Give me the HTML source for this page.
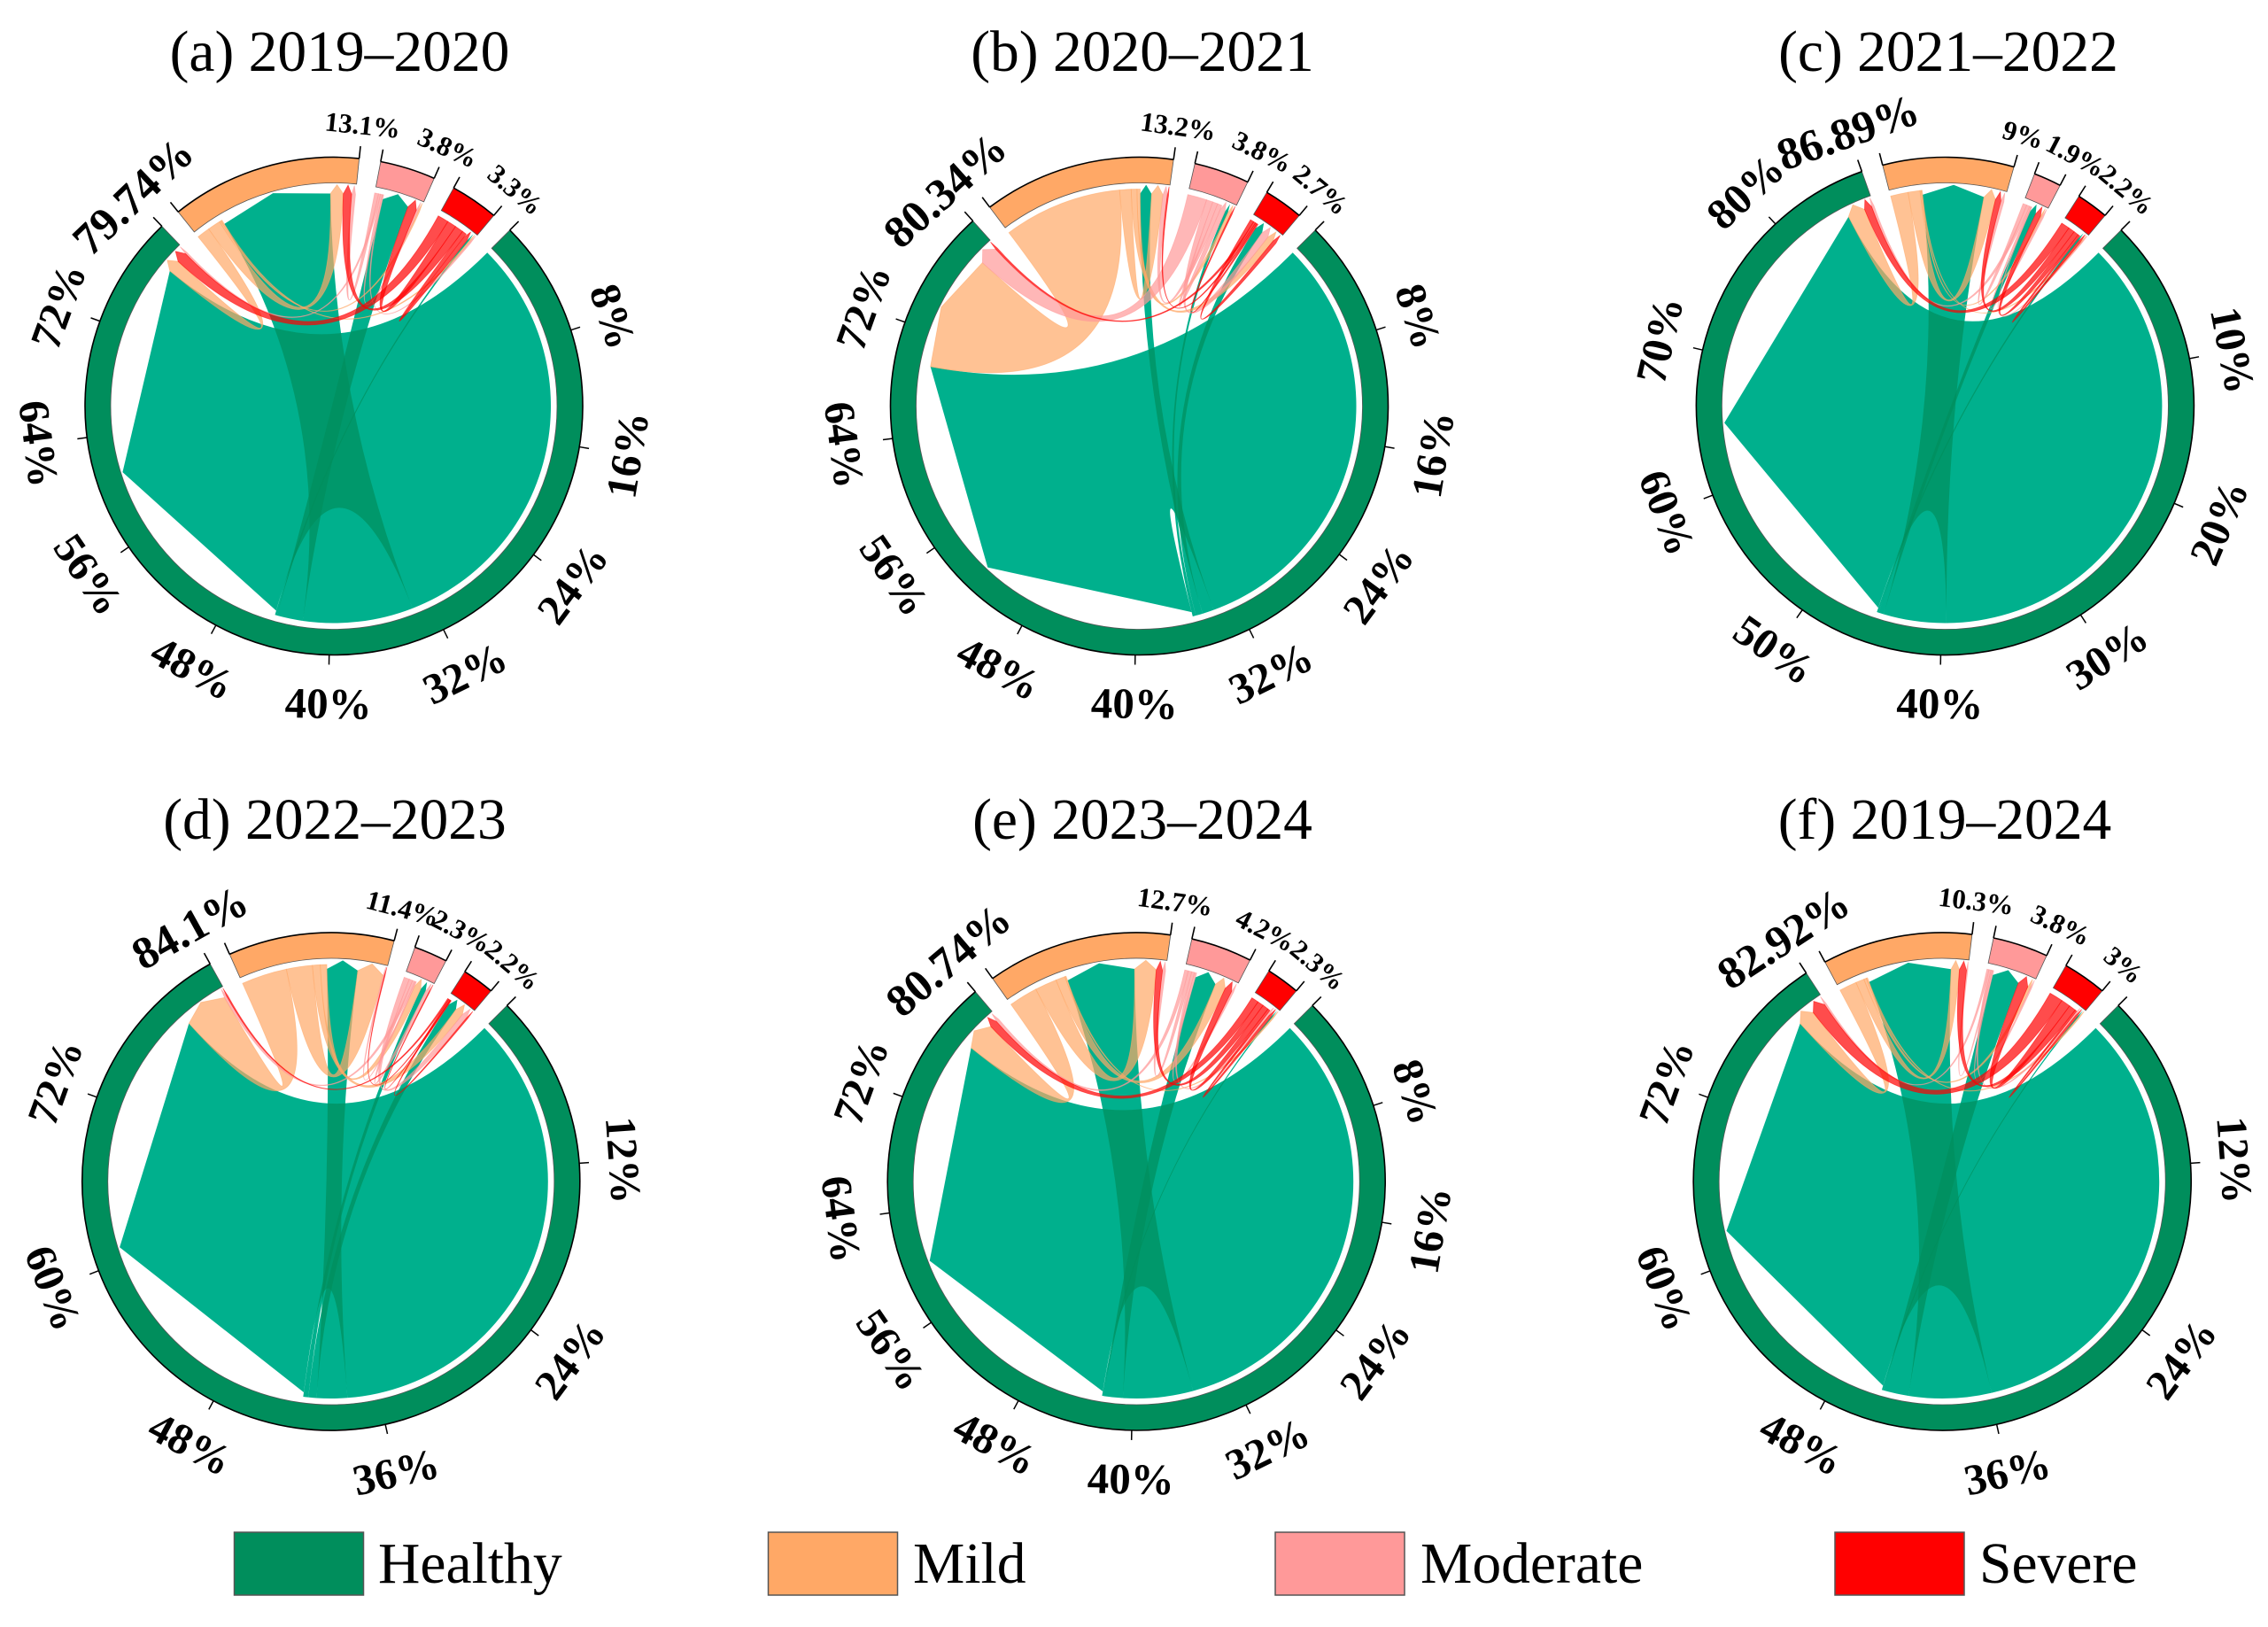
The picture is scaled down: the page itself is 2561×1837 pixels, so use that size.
<!DOCTYPE html>
<html lang="en">
<head>
<meta charset="utf-8">
<title>Chord diagrams of transitions between health classes, 2019–2024</title>
<style>
  html, body { margin: 0; padding: 0; background: #fff; }
  svg { display: block; }
  text { font-family: "Liberation Serif", serif; fill: #000; }
  .title { font-size: 65.5px; text-anchor: middle; }
  .legend-text { font-size: 65.6px; }
</style>
</head>
<body>
<svg id="figure" xmlns="http://www.w3.org/2000/svg" width="2561" height="1837" viewBox="0 0 2561 1837">
  <defs>
    <filter id="healthy-link-tone" x="0" y="0" width="1" height="1" color-interpolation-filters="sRGB">
      <feComponentTransfer>
        <feFuncR type="linear" slope="1.4286" intercept="-0.4286"/>
      </feComponentTransfer>
    </filter>
  </defs>
  <rect x="0" y="0" width="2561" height="1837" fill="#fff"/>

  <g id="panel-0">
    <text class="title" x="383.5" y="80">(a) 2019–2020</text>
  </g>
  <g id="panel-1">
    <text class="title" x="1290" y="80">(b) 2020–2021</text>
  </g>
  <g id="panel-2">
    <text class="title" x="2200" y="80">(c) 2021–2022</text>
  </g>
  <g id="panel-3">
    <text class="title" x="378" y="947">(d) 2022–2023</text>
  </g>
  <g id="panel-4">
    <text class="title" x="1290" y="947">(e) 2023–2024</text>
  </g>
  <g id="panel-5">
    <text class="title" x="2196" y="947">(f) 2019–2024</text>
  </g>

  <g>
    <g>
      <rect x="264.5" y="1730" width="146" height="71" fill="#008E5C" stroke="#555" stroke-width="1.5"/>
      <text class="legend-text" x="427" y="1787">Healthy</text>
    </g>
    <g>
      <rect x="867.5" y="1730" width="146" height="71" fill="#FFA866" stroke="#555" stroke-width="1.5"/>
      <text class="legend-text" x="1031" y="1787">Mild</text>
    </g>
    <g>
      <rect x="1440" y="1730" width="146" height="71" fill="#FF9999" stroke="#555" stroke-width="1.5"/>
      <text class="legend-text" x="1604" y="1787">Moderate</text>
    </g>
    <g>
      <rect x="2072" y="1730" width="146" height="71" fill="#FF0000" stroke="#555" stroke-width="1.5"/>
      <text class="legend-text" x="2235" y="1787">Severe</text>
    </g>
  </g>
</svg>

<script>
// ---------- Data: class names, class shares (%), transition flows, axis ticks ----------
const classNames = ['healthy', 'mild', 'moderate', 'severe'];

const shares2019to2020 = [79.74, 13.1, 3.8, 3.3];
const shares2020to2021 = [80.34, 13.2, 3.8, 2.7];
const shares2021to2022 = [86.89, 9, 1.9, 2.2];
const shares2022to2023 = [84.1, 11.4, 2.3, 2.2];
const shares2023to2024 = [80.74, 12.7, 4.2, 2.3];
const shares2019to2024 = [82.92, 10.3, 3.8, 3];

// Flows: row = from class, column = to class (healthy, mild, moderate, severe)
const flows2019to2020 = [
  [33.5, 8.7, 2.05, 0.15],
  [1.0, 1.0, 0.12, 0.1],
  [0.15, 0.3, 0.15, 0.1],
  [0.85, 0.65, 0.7, 0.35]
];
const flows2020to2021 = [
  [33.7, 0.9, 0.25, 0.55],
  [9.3, 0.9, 0.25, 0.45],
  [1.5, 0.35, 0.4, 0.5],
  [0.15, 0.1, 0.1, 0.25]
];
const flows2021to2022 = [
  [39.6, 4.95, 0.4, 0.15],
  [1.4, 0.95, 0.1, 0.07],
  [0.2, 0.25, 0.1, 0.05],
  [0.6, 0.45, 0.35, 0.15]
];
const flows2022to2023 = [
  [38.5, 2.4, 0.4, 0.65],
  [3.5, 2.0, 0.5, 0.6],
  [0.2, 0.1, 0.25, 0.4],
  [0.1, 0.05, 0.05, 0.1]
];
const flows2023to2024 = [
  [35.2, 5.5, 1.5, 0.12],
  [2.3, 1.75, 0.75, 0.1],
  [0.25, 0.25, 0.15, 0.2],
  [0.6, 0.5, 0.5, 0.2]
];
const flows2019to2024 = [
  [35.8, 6.5, 2.0, 0.12],
  [1.35, 0.65, 0.2, 0.1],
  [0.15, 0.1, 0.1, 0.15],
  [1.1, 0.55, 0.75, 0.15]
];

const ticks2019to2020 = [8, 16, 24, 32, 40, 48, 56, 64, 72];
const ticks2020to2021 = [8, 16, 24, 32, 40, 48, 56, 64, 72];
const ticks2021to2022 = [10, 20, 30, 40, 50, 60, 70, 80];
const ticks2022to2023 = [12, 24, 36, 48, 60, 72];
const ticks2023to2024 = [8, 16, 24, 32, 40, 48, 56, 64, 72];
const ticks2019to2024 = [12, 24, 36, 48, 60, 72];

const panelShares = [shares2019to2020, shares2020to2021, shares2021to2022, shares2022to2023, shares2023to2024, shares2019to2024];
const panelFlows = [flows2019to2020, flows2020to2021, flows2021to2022, flows2022to2023, flows2023to2024, flows2019to2024];
const panelTicks = [ticks2019to2020, ticks2020to2021, ticks2021to2022, ticks2022to2023, ticks2023to2024, ticks2019to2024];

// ---------- Appearance and layout constants ----------
const classColours = ['#008E5C', '#FFA866', '#FF9999', '#FF0000'];
const panelCentreX = [377, 1286.5, 2196.4, 373.8, 1283.2, 2193.2];
const panelCentreY = [458.5, 458.5, 458.5, 1334, 1334, 1334];
const START_DEG = 45, GAP_DEG = 5;
const R_OUT = 281, R_IN = 252, R_SRC = 245, R_TIP = 250, R_SHOULDER = 240;
const SVG_NS = 'http://www.w3.org/2000/svg';

function makeEl(tag, attrs, parent) {
  const el = document.createElementNS(SVG_NS, tag);
  for (const key in attrs) el.setAttribute(key, attrs[key]);
  parent.appendChild(el);
  return el;
}

function drawPanel(panelIndex) {
  const shares = panelShares[panelIndex];
  const flows = panelFlows[panelIndex];
  const ticks = panelTicks[panelIndex];
  const cx = panelCentreX[panelIndex];
  const cy = panelCentreY[panelIndex];
  const parent = document.getElementById('panel-' + panelIndex);

  // Angular scale: percent -> degrees, clockwise from 12 o'clock
  const total = shares.reduce((a, b) => a + b, 0);
  const degPerPct = (360 - GAP_DEG * shares.length) / total;
  const sectorStart = [];
  let cursor = START_DEG;
  shares.forEach((s, i) => {
    sectorStart[i] = cursor;
    cursor += s * degPerPct + GAP_DEG;
  });
  const angleOf = (i, pct) => sectorStart[i] + pct * degPerPct;
  const point = (r, deg) => {
    const t = deg * Math.PI / 180;
    return [cx + r * Math.sin(t), cy - r * Math.cos(t)];
  };
  const fmt = p => p[0].toFixed(2) + ' ' + p[1].toFixed(2);
  const arcTo = (r, a0, a1) => 'A' + r + ' ' + r + ' 0 ' + (a1 - a0 > 180 ? 1 : 0) + ' 1 ' + fmt(point(r, a1));

  // Stack flows inside each sector: outgoing first, then incoming, each largest first
  const srcSpan = shares.map(() => []);
  const dstSpan = shares.map(() => []);
  shares.forEach((share, i) => {
    const outs = shares.map((_, j) => j).sort((p, q) => flows[i][q] - flows[i][p]);
    const ins = shares.map((_, j) => j).sort((p, q) => flows[q][i] - flows[p][i]);
    let sum = 0;
    shares.forEach((_, j) => { sum += flows[i][j] + flows[j][i]; });
    const scale = share / sum;
    let pos = 0;
    outs.forEach(j => {
      const next = pos + flows[i][j] * scale;
      srcSpan[i][j] = [angleOf(i, pos), angleOf(i, next)];
      pos = next;
    });
    ins.forEach(j => {
      const next = pos + flows[j][i] * scale;
      dstSpan[j][i] = [angleOf(i, pos), angleOf(i, next)];
      pos = next;
    });
  });

  // Links: quadratic Bezier ribbons through the circle centre, arrow head at the target.
  // Healthy links sit in a toned group so one layer reads teal and overlaps read darker.
  const healthyLinks = makeEl('g', { filter: 'url(#healthy-link-tone)' }, parent);
  
  
  const linkBacking = makeEl('circle', { cx: cx, cy: cy, r: R_TIP + 1, fill: '#fff' }, healthyLinks);
  
  
  const otherLinks = makeEl('g', {}, parent);
  
  

  shares.forEach((_, i) => {
    shares.forEach((__, j) => {
      if (flows[i][j] <= 0) return;
      const [a0, a1] = srcSpan[i][j];
      const [b0, b1] = dstSpan[i][j];
      const c = cx.toFixed(2) + ' ' + cy.toFixed(2);
      const d = 'M' + fmt(point(R_SRC, a0)) + arcTo(R_SRC, a0, a1) +
        'Q' + c + ' ' + fmt(point(R_SHOULDER, b0)) +
        'L' + fmt(point(R_TIP, (b0 + b1) / 2)) +
        'L' + fmt(point(R_SHOULDER, b1)) +
        'Q' + c + ' ' + fmt(point(R_SRC, a0)) + 'Z';
      const link = makeEl('path', {
        d: d,
        fill: classColours[i],
        'fill-opacity': 0.7,
        stroke: i === 0 ? 'none' : classColours[i],
        'stroke-opacity': 0.55,
        'stroke-width': 0.8
      }, i === 0 ? healthyLinks : otherLinks);
      
      
    });
  });

  // Sectors (outer ring), end ticks and share labels
  shares.forEach((share, i) => {
    const a0 = sectorStart[i];
    const a1 = a0 + share * degPerPct;
    const sector = makeEl('path', {
      d: 'M' + fmt(point(R_OUT, a0)) + arcTo(R_OUT, a0, a1) +
         'L' + fmt(point(R_IN, a1)) +
         'A' + R_IN + ' ' + R_IN + ' 0 ' + (a1 - a0 > 180 ? 1 : 0) + ' 0 ' + fmt(point(R_IN, a0)) + 'Z',
      fill: classColours[i],
      stroke: '#555',
      'stroke-width': 0.8
    }, parent);
    
    

    const rim = makeEl('path', {
      d: 'M' + fmt(point(R_OUT, a0)) + arcTo(R_OUT, a0, a1),
      fill: 'none',
      stroke: '#000',
      'stroke-width': 1.6
    }, parent);
    
    

    [a0, a1].forEach(angle => {
      const p0 = point(R_OUT, angle);
      const p1 = point(R_OUT + 14, angle);
      const endTick = makeEl('line', {
        x1: p0[0], y1: p0[1], x2: p1[0], y2: p1[1],
        stroke: '#000', 'stroke-width': 1.6
      }, parent);
      
      
    });

    const isHealthy = i === 0;
    const lp = point(isHealthy ? 327 : 319, a1);
    const rot = a1 > 270 ? a1 - 360 : a1;
    const shareLabel = makeEl('text', {
      x: lp[0], y: lp[1],
      transform: 'rotate(' + rot.toFixed(2) + ' ' + lp[0].toFixed(2) + ' ' + lp[1].toFixed(2) + ')',
      'text-anchor': 'middle',
      'dominant-baseline': 'central',
      'font-size': isHealthy ? 51 : 31,
      'font-weight': 'bold'
    }, parent);
    shareLabel.textContent = share + '%';
    
    
  });

  // Percent axis on the healthy sector
  ticks.forEach(value => {
    const angle = angleOf(0, value);
    const p0 = point(R_OUT, angle);
    const p1 = point(R_OUT + 11, angle);
    const tick = makeEl('line', {
      x1: p0[0], y1: p0[1], x2: p1[0], y2: p1[1],
      stroke: '#000', 'stroke-width': 1.5
    }, parent);
    
    

    const lower = angle > 90 && angle < 270;
    const lp = point(lower ? 336 : 331, angle);
    const rot = lower ? angle - 180 : (angle > 270 ? angle - 360 : angle);
    const tickLabel = makeEl('text', {
      x: lp[0], y: lp[1],
      transform: 'rotate(' + rot.toFixed(2) + ' ' + lp[0].toFixed(2) + ' ' + lp[1].toFixed(2) + ')',
      'text-anchor': 'middle',
      'dominant-baseline': 'central',
      'font-size': 49,
      'font-weight': 'bold'
    }, parent);
    tickLabel.textContent = value + '%';
    
    
  });
}

panelShares.forEach((_, i) => drawPanel(i));
</script>
</body>
</html>
